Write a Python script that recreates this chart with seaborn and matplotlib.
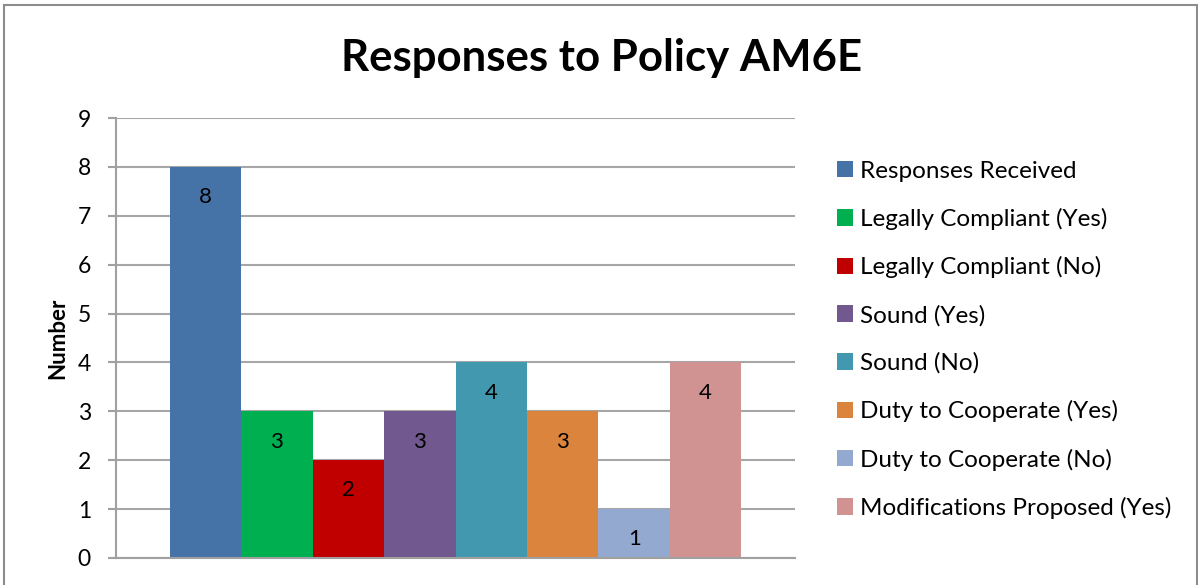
import matplotlib
matplotlib.use("Agg")
import matplotlib.pyplot as plt
import seaborn as sns
import pandas as pd
from matplotlib.patches import Rectangle

series = ["Responses Received", "Legally Compliant (Yes)", "Legally Compliant (No)",
          "Sound (Yes)", "Sound (No)", "Duty to Cooperate (Yes)",
          "Duty to Cooperate (No)", "Modifications Proposed (Yes)"]
values = [8, 3, 2, 3, 4, 3, 1, 4]
colors = ["#4572A7", "#00B050", "#C00000", "#71588F", "#4198AF", "#DB843D", "#93A9CF", "#D19392"]
yticks = [0, 1, 2, 3, 4, 5, 6, 7, 8, 9]

sns.set_theme(style="white")
plt.rcParams['font.family'] = ['Lato', 'DejaVu Sans']
plt.rcParams['text.color'] = 'black'
plt.rcParams['axes.labelcolor'] = 'black'
plt.rcParams['ytick.color'] = 'black'

df = pd.DataFrame({"cat": [""] * len(series), "series": series, "value": values})

fig = plt.figure(figsize=(11.98, 5.85), dpi=100)
W, H = 1198, 585
ax = fig.add_axes([116 / W, 1 - 558 / H, (795 - 116) / W, (558 - 118) / H])

sns.barplot(data=df, x="cat", y="value", hue="series", hue_order=series,
            palette=colors, width=0.842, gap=0, dodge=True, ax=ax,
            saturation=1, linewidth=0, legend=True)

ax.set_ylim(0, 9)
ax.set_xlim(-0.5, 0.5)
ax.set_yticks(yticks)
ax.set_yticklabels([str(t) for t in yticks], fontsize=16.5, color="black")
ax.set_xticks([])
ax.set_xlabel("")
ax.set_ylabel("Number", fontsize=16, fontweight="bold", labelpad=7, color="black")
ax.grid(axis="y", color="#a6a6a6", linewidth=1.5)
ax.set_axisbelow(True)
for s in ["top", "right"]:
    ax.spines[s].set_visible(False)
for s in ["left", "bottom"]:
    ax.spines[s].set_color("#a0a0a0")
    ax.spines[s].set_linewidth(1.5)
ax.tick_params(axis="y", which="both", left=True, length=6, width=1.5, color="#a0a0a0", pad=12)

for cont in ax.containers:
    ax.bar_label(cont, label_type="edge", padding=-29, fontsize=16, color="black")

handles, labels = ax.get_legend_handles_labels()
ax.get_legend().remove()
fig.legend(handles, labels, loc="upper left", bbox_to_anchor=(827 / W, 1 - 151 / H),
           frameon=False, fontsize=17.5, handlelength=0.66, handleheight=0.66,
           handletextpad=0.3, labelspacing=1.08, borderaxespad=0)

fig.text(602 / W, 1 - 58 / H, "Responses to Policy AM6E", ha="center", va="center",
         fontsize=31.5, fontweight="bold", color="black")

fig.patches.append(Rectangle((4 / W, -0.01), (1197 - 4) / W, 1 - 5 / H + 0.01,
                             transform=fig.transFigure, fill=False,
                             edgecolor="#8c8c8c", linewidth=1.5))

fig.savefig("out.png", dpi=100)
